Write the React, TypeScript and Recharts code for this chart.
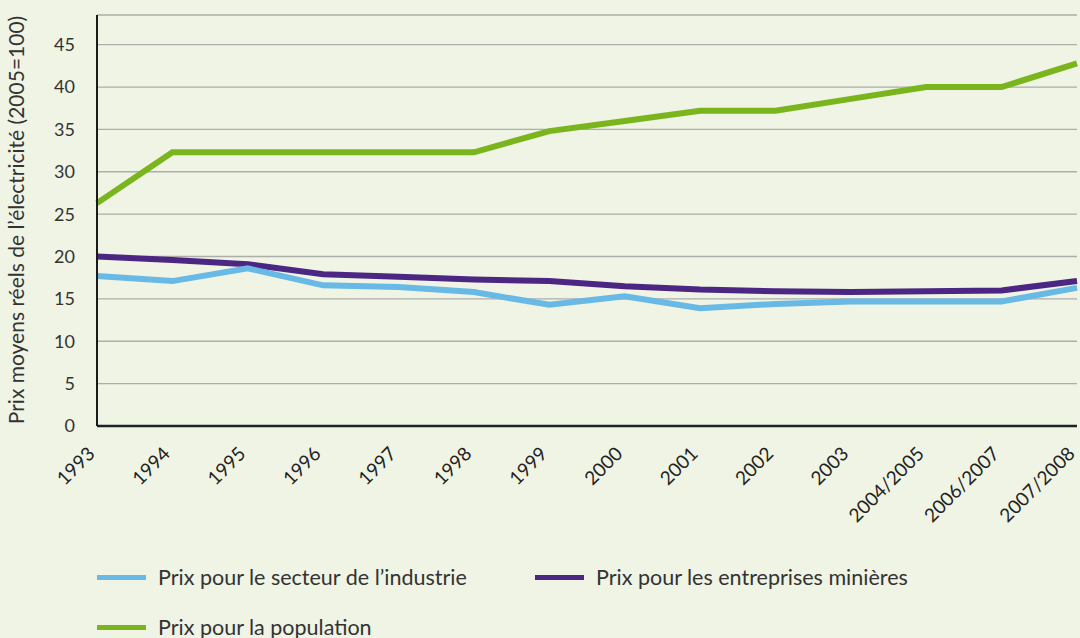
import React from 'react';
import { LineChart, Line, XAxis, YAxis, CartesianGrid, Legend, Label } from 'recharts';

const years = ['1993', '1994', '1995', '1996', '1997', '1998', '1999', '2000', '2001', '2002', '2003', '2004/2005', '2006/2007', '2007/2008'];
const industrie = [17.7, 17.1, 18.6, 16.6, 16.4, 15.8, 14.3, 15.3, 13.9, 14.4, 14.7, 14.7, 14.7, 16.3];
const minieres = [20.0, 19.6, 19.1, 17.9, 17.6, 17.3, 17.1, 16.5, 16.1, 15.9, 15.8, 15.9, 16.0, 17.1];
const population = [26.3, 32.3, 32.3, 32.3, 32.3, 32.3, 34.8, 36.0, 37.2, 37.2, 38.6, 40.0, 40.0, 42.8];
const yTicks = [0, 5, 10, 15, 20, 25, 30, 35, 40, 45];

const seriesNames = {
  industrie: 'Prix pour le secteur de l\u2019industrie',
  minieres: 'Prix pour les entreprises minières',
  population: 'Prix pour la population',
};
const colors = { industrie: '#68b9e6', minieres: '#4b2683', population: '#7ab51d' };

const data = years.map((y, i) => ({
  year: y,
  industrie: industrie[i],
  minieres: minieres[i],
  population: population[i],
}));

const FONT = 'Lato, "Noto Sans", sans-serif';

const XTick = (props: any) => {
  const { x, y, payload } = props;
  return (
    <g transform={`translate(${x - 1},${y + 21})`}>
      <text x={0} y={0} textAnchor="end" transform="rotate(-45)" fontSize={19} fill="#222" fontFamily={FONT}>
        {payload.value}
      </text>
    </g>
  );
};

const LegendContent = () => {
  const items: [keyof typeof colors, number, number][] = [
    ['industrie', 97, 577],
    ['minieres', 535, 577],
    ['population', 97, 627],
  ];
  return (
    <div style={{ position: 'relative', width: 1080, height: 80 }}>
      {items.map(([k, x, y]) => (
        <div key={k} style={{ position: 'absolute', left: x, top: y - 560 - 13, display: 'flex', alignItems: 'center', fontFamily: FONT, fontSize: 21.5, color: '#333', whiteSpace: 'nowrap' }}>
          <span style={{ display: 'inline-block', width: 49, height: 5, background: colors[k], marginRight: 12 }} />
          <span>{seriesNames[k]}</span>
        </div>
      ))}
    </div>
  );
};

export default function App() {
  return (
    <div style={{ position: 'absolute', left: 0, top: 0, width: 1080, height: 638, background: '#eff4e4' }}>
      <LineChart width={1080} height={638} data={data} margin={{ top: 15, right: 3, left: 0, bottom: 20 }}>
        <CartesianGrid horizontal vertical={false} stroke="#adadaa" strokeWidth={1.3} />
        <XAxis
          dataKey="year"
          tick={<XTick />}
          tickLine={false}
          axisLine={{ stroke: '#1a2424', strokeWidth: 2.5 }}
          interval={0}
          height={112}
        />
        <YAxis
          domain={[0, 48.5]}
          ticks={yTicks}
          width={97}
          tickLine={false}
          tickSize={6}
          tickMargin={16}
          axisLine={{ stroke: '#1a1a1a', strokeWidth: 2 }}
          tick={{ fontSize: 18, fill: '#333', fontFamily: FONT }}
          allowDataOverflow
        >
          <Label
            content={() => (
              <text
                x={24}
                y={220}
                transform="rotate(-90, 24, 220)"
                textAnchor="middle"
                fontSize={21}
                fill="#333"
                fontFamily={FONT}
              >
                Prix moyens réels de l’électricité (2005=100)
              </text>
            )}
          />
        </YAxis>
        <Legend content={<LegendContent />} wrapperStyle={{ position: 'absolute', left: 0, top: 560, width: 1080 }} />
        <Line type="linear" dataKey="minieres" name={seriesNames.minieres} stroke={colors.minieres} strokeWidth={6} dot={false} isAnimationActive={false} />
        <Line type="linear" dataKey="industrie" name={seriesNames.industrie} stroke={colors.industrie} strokeWidth={6} dot={false} isAnimationActive={false} />
        <Line type="linear" dataKey="population" name={seriesNames.population} stroke={colors.population} strokeWidth={6} dot={false} isAnimationActive={false} />
      </LineChart>
    </div>
  );
}
